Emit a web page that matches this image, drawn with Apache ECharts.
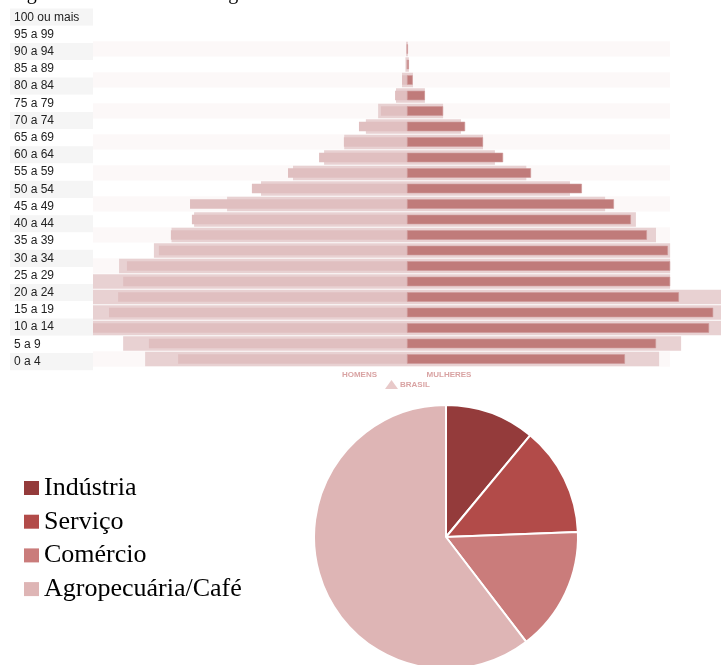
<!DOCTYPE html>
<html>
<head>
<meta charset="utf-8">
<script src="https://cdn.jsdelivr.net/npm/echarts@6/dist/echarts.min.js"></script>
<style>
html,body{margin:0;padding:0;background:#fff;}
#chart{width:724px;height:665px;}
</style>
</head>
<body>
<div id="chart"></div>
<script>
// ---- Data ----
const ageGroups = ['100 ou mais','95 a 99','90 a 94','85 a 89','80 a 84','75 a 79','70 a 74','65 a 69','60 a 64','55 a 59','50 a 54','45 a 49','40 a 44','35 a 39','30 a 34','25 a 29','20 a 24','15 a 19','10 a 14','5 a 9','0 a 4'];
// local population (inner bars)
const homens   = [0.3, 0.3, 1.6, 3.8, 8.3, 15.3, 20.1, 28.0, 37.9, 49.4, 69.1, 68.5, 75.2, 79.0, 89.2, 90.4, 92.0, 94.9, 102, 82.2, 72.9];
const mulheres = [0.3, 0.6, 1.8, 5.7, 11.5, 18.5, 24.2, 30.6, 39.5, 55.7, 65.9, 71.3, 76.4, 83.1, 83.8, 83.8, 86.6, 97.5, 96.2, 79.3, 69.4];
// Brasil comparison (outer bars)
const brasilHomens   = [0.3, 0.5, 1.6, 3.5, 9.2, 13.1, 20.0, 26.4, 36.3, 46.5, 57.3, 67.8, 75.0, 80.6, 91.7, 102, 102, 102, 102, 90.4, 83.4];
const brasilMulheres = [0.3, 0.6, 1.9, 5.7, 11.5, 17.2, 24.2, 28.0, 38.0, 51.9, 63.1, 72.9, 79.3, 83.8, 83.8, 83.8, 102, 100.3, 100.3, 87.3, 80.3];
// Pie: sectors
const setores = ['Indústria','Serviço','Comércio','Agropecuária/Café'];
const setorValores = [11.0, 13.4, 15.2, 60.4];
const setorCores = ['#943b3b','#b24b49','#ca7c7b','#deb5b5'];

const chart = echarts.init(document.getElementById('chart'), null, {renderer:'canvas'});

const rowTop = 41.25, rowH = 325.5;

const option = {
  animation: false,
  backgroundColor: '#ffffff',
  grid: [
    {left: 10, top: 8.6, width: 83, height: 361.6},
    {left: 93, top: rowTop, width: 577, height: rowH},
    {left: 93, top: rowTop, width: 628, height: rowH}
  ],
  xAxis: [
    {gridIndex: 0, type: 'value', min: 0, max: 1, show: false},
    {gridIndex: 1, type: 'value', min: 0, max: 1, show: false},
    {gridIndex: 2, type: 'value', min: -100, max: 100, show: false}
  ],
  yAxis: [
    {gridIndex: 0, type: 'category', data: ageGroups, inverse: true,
     axisLine: {show: false}, axisTick: {show: false},
     axisLabel: {inside: true, margin: 4, interval: 0, fontSize: 12, color: '#222',
                 fontFamily: 'Liberation Sans, Arial, sans-serif'},
     splitLine: {show: false},
     splitArea: {show: true, interval: 0, areaStyle: {color: ['#f5f5f5', '#ffffff']}}},
    {gridIndex: 1, type: 'category', data: ageGroups, inverse: true,
     axisLine: {show: false}, axisTick: {show: false}, axisLabel: {show: false},
     splitLine: {show: false},
     splitArea: {show: true, interval: 0, areaStyle: {color: ['#fcf8f8', '#ffffff']}}},
    {gridIndex: 2, type: 'category', data: ageGroups, inverse: true, show: false},
    {gridIndex: 2, type: 'category', data: ageGroups, inverse: true, show: false}
  ],
  legend: {
    orient: 'vertical', left: 24, top: 475, padding: 0,
    itemWidth: 15, itemHeight: 14, itemGap: 7.7, icon: 'rect',
    itemStyle: {borderWidth: 0},
    data: setores,
    textStyle: {fontFamily: 'Liberation Serif, Times New Roman, serif', fontSize: 26, color: '#000', lineHeight: 26},
    selectedMode: false
  },
  series: [
    {name: 'Brasil homens', type: 'bar', xAxisIndex: 2, yAxisIndex: 2, silent: true,
     data: brasilHomens.map(v => -v), barWidth: 14.5, barGap: '-100%',
     itemStyle: {color: '#e8d1d2'}},
    {name: 'Brasil mulheres', type: 'bar', xAxisIndex: 2, yAxisIndex: 2, silent: true,
     data: brasilMulheres, barWidth: 14.5, barGap: '-100%',
     itemStyle: {color: '#e8d1d2'}},
    {name: 'Homens', type: 'bar', xAxisIndex: 2, yAxisIndex: 3, silent: true,
     data: homens.map(v => -v), barWidth: 9.5, barGap: '-100%',
     itemStyle: {color: '#e0bfc0'}},
    {name: 'Mulheres', type: 'bar', xAxisIndex: 2, yAxisIndex: 3, silent: true,
     data: mulheres, barWidth: 9.5, barGap: '-100%',
     itemStyle: {color: '#c07b7a', borderColor: '#cf9999', borderWidth: 0.6}},
    {name: 'Setores', type: 'pie', center: [446, 537], radius: 132,
     startAngle: 90, clockwise: true, silent: true,
     label: {show: false}, labelLine: {show: false},
     itemStyle: {borderColor: '#ffffff', borderWidth: 2},
     data: setores.map((n, i) => ({name: n, value: setorValores[i], itemStyle: {color: setorCores[i]}}))}
  ],
  graphic: [
    {type: 'text', left: 10, top: -16, silent: true,
     style: {text: 'Figura 5: Pirâmide etária e gráfico de', font: '20px "Liberation Serif", serif', fill: '#000'}},
    {type: 'text', x: 359.5, y: 374.5, silent: true,
     style: {text: 'HOMENS', font: 'bold 8px "Liberation Sans", Arial, sans-serif', fill: '#d9a3a3', align: 'center', verticalAlign: 'middle'}},
    {type: 'text', x: 449, y: 374.5, silent: true,
     style: {text: 'MULHERES', font: 'bold 8px "Liberation Sans", Arial, sans-serif', fill: '#d9a3a3', align: 'center', verticalAlign: 'middle'}},
    {type: 'polygon', silent: true, shape: {points: [[385, 389], [391.5, 380], [398, 389]]}, style: {fill: '#e8c9c9'}},
    {type: 'text', x: 400, y: 385, silent: true,
     style: {text: 'BRASIL', font: 'bold 8px "Liberation Sans", Arial, sans-serif', fill: '#d9a3a3', align: 'left', verticalAlign: 'middle'}}
  ]
};
chart.setOption(option);
</script>
</body>
</html>
